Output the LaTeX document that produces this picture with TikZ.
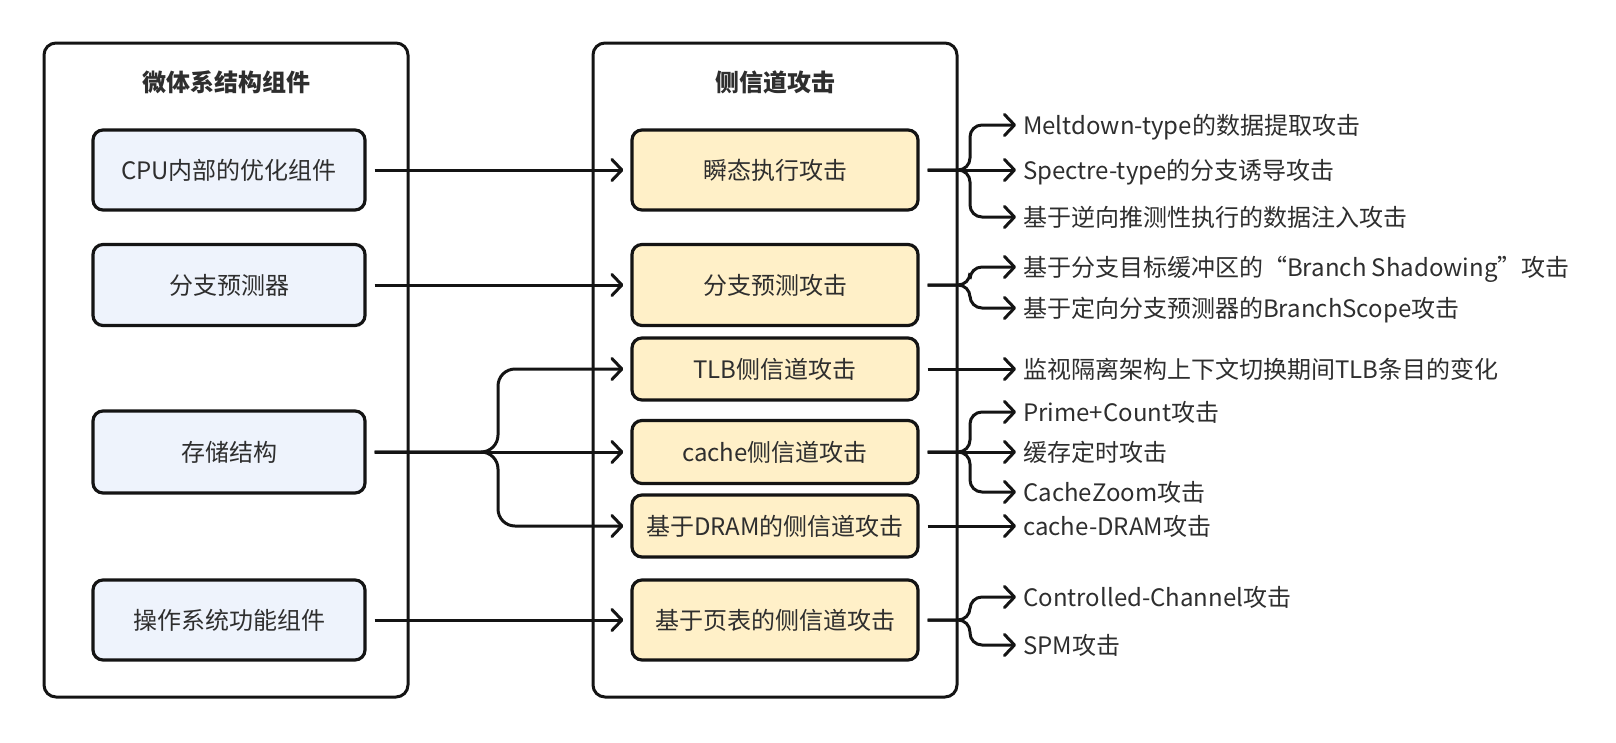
\documentclass[tikz,border=0pt]{standalone}
\usepackage{fontspec}
\setmainfont{Noto Sans CJK SC}
\usetikzlibrary{arrows.meta,calc}
\definecolor{lnc}{HTML}{141414}
\definecolor{txc}{HTML}{2E2E2E}
\definecolor{bluef}{HTML}{EEF3FC}
\definecolor{yelf}{HTML}{FFF0C8}
\begin{document}
\begin{tikzpicture}[x=1pt,y=-1pt,
  every node/.style={font=\fontsize{24}{28}\selectfont, text=txc, text height=21pt, text depth=3pt},
  panel/.style={draw=lnc, line width=3pt, rounded corners=12pt, minimum width=364pt, minimum height=654pt, fill=white},
  ptitle/.style={font=\fontsize{24}{28}\selectfont\bfseries},
  lbox/.style={draw=lnc, line width=3.2pt, rounded corners=10pt, fill=bluef, minimum width=272pt, inner sep=0pt},
  mbox/.style={draw=lnc, line width=3.2pt, rounded corners=10pt, fill=yelf, minimum width=286pt, inner sep=0pt},
  leaf/.style={anchor=west, inner sep=0pt},
  arr/.style={draw=lnc, line width=3pt, -{Straight Barb[length=10pt,width=21pt,round]}},
]
\useasboundingbox (0,0) rectangle (1616,742);
% panels
\node[panel] (panelL) at (226,370) {};
\node[panel] (panelM) at (775,370) {};
\node[ptitle] (titleL) at (226,82) {微体系结构组件};
\node[ptitle] (titleM) at (775,82) {侧信道攻击};
% left boxes
\node[lbox, minimum height=80pt] (cpu) at (229,170) {CPU内部的优化组件};
\node[lbox, minimum height=81pt] (bp) at (229,285) {分支预测器};
\node[lbox, minimum height=82pt] (mem) at (229,452) {存储结构};
\node[lbox, minimum height=80pt] (os) at (229,620) {操作系统功能组件};
% middle boxes
\node[mbox, minimum height=80pt] (trans) at (775,170) {瞬态执行攻击};
\node[mbox, minimum height=81pt] (bpa) at (775,285) {分支预测攻击};
\node[mbox, minimum height=62pt] (tlb) at (775,369) {TLB侧信道攻击};
\node[mbox, minimum height=63pt] (cache) at (775,452) {cache侧信道攻击};
\node[mbox, minimum height=62pt] (dram) at (775,526) {基于DRAM的侧信道攻击};
\node[mbox, minimum height=80pt] (pt) at (775,620) {基于页表的侧信道攻击};
% leaves
\node[leaf] (l1) at (1023,125) {Meltdown-type的数据提取攻击};
\node[leaf] (l2) at (1023,170) {Spectre-type的分支诱导攻击};
\node[leaf] (l3) at (1023,217) {基于逆向推测性执行的数据注入攻击};
\node[leaf] (l4) at (1023,267) {基于分支目标缓冲区的“Branch Shadowing”攻击};
\node[leaf] (l5) at (1023,308) {基于定向分支预测器的BranchScope攻击};
\node[leaf] (l6) at (1023,369) {监视隔离架构上下文切换期间TLB条目的变化};
\node[leaf] (l7) at (1023,412) {Prime+Count攻击};
\node[leaf] (l8) at (1023,452) {缓存定时攻击};
\node[leaf] (l9) at (1023,492) {CacheZoom攻击};
\node[leaf] (l10) at (1023,526) {cache-DRAM攻击};
\node[leaf] (l11) at (1023,597) {Controlled-Channel攻击};
\node[leaf] (l12) at (1023,645) {SPM攻击};
% left to middle
\draw[arr, shorten <=8pt, shorten >=7pt] (cpu.east) -- (trans.west);
\draw[arr, shorten <=8pt, shorten >=7pt] (bp.east) -- (bpa.west);
\draw[arr, shorten <=8pt, shorten >=7pt] (mem.east) -- (cache.west);
\draw[arr, shorten <=8pt, shorten >=7pt] (os.east) -- (pt.west);
\draw[arr, rounded corners=17pt, shorten >=7pt] ([xshift=8pt]mem.east) -- (498,452) -- (498,369) -- (tlb.west);
\draw[arr, rounded corners=17pt, shorten >=7pt] ([xshift=8pt]mem.east) -- (498,452) -- (498,526) -- (dram.west);
% middle to right
\draw[arr, shorten <=8pt, shorten >=7pt] (trans.east) -- (l2.west);
\draw[arr, rounded corners=12pt, shorten >=7pt] ([xshift=8pt]trans.east) -- (970,170) -- (970,125) -- (l1.west);
\draw[arr, rounded corners=12pt, shorten >=7pt] ([xshift=8pt]trans.east) -- (970,170) -- (970,217) -- (l3.west);
\draw[arr, rounded corners=12pt, shorten >=7pt] ([xshift=8pt]bpa.east) -- (970,285) -- (970,267) -- (l4.west);
\draw[arr, rounded corners=12pt, shorten >=7pt] ([xshift=8pt]bpa.east) -- (970,285) -- (970,308) -- (l5.west);
\draw[arr, shorten <=8pt, shorten >=7pt] (tlb.east) -- (l6.west);
\draw[arr, shorten <=8pt, shorten >=7pt] (cache.east) -- (l8.west);
\draw[arr, rounded corners=12pt, shorten >=7pt] ([xshift=8pt]cache.east) -- (970,452) -- (970,412) -- (l7.west);
\draw[arr, rounded corners=12pt, shorten >=7pt] ([xshift=8pt]cache.east) -- (970,452) -- (970,492) -- (l9.west);
\draw[arr, shorten <=8pt, shorten >=7pt] (dram.east) -- (l10.west);
\draw[arr, rounded corners=12pt, shorten >=7pt] ([xshift=8pt]pt.east) -- (970,620) -- (970,597) -- (l11.west);
\draw[arr, rounded corners=12pt, shorten >=7pt] ([xshift=8pt]pt.east) -- (970,620) -- (970,645) -- (l12.west);
\end{tikzpicture}
\end{document}
